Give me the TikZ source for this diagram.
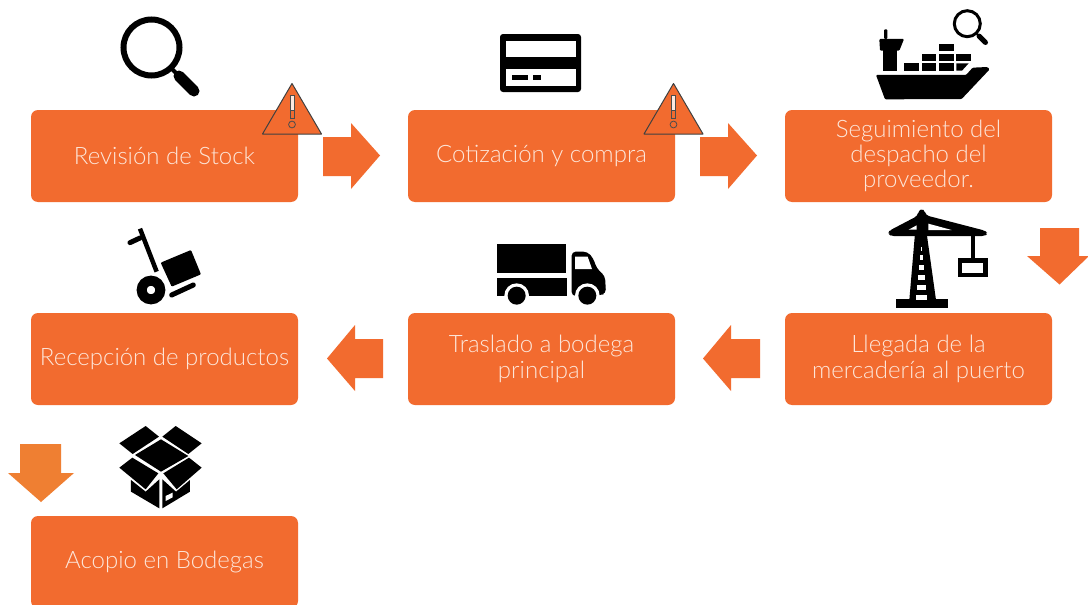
\documentclass[tikz,border=0pt]{standalone}
\usepackage{fontspec}
\setmainfont{Lato}[UprightFont=* Light]
\definecolor{boxorange}{HTML}{F26B2F}
\definecolor{arroworange}{HTML}{EF7F32}
\definecolor{boxtext}{HTML}{FDE6D9}
\tikzset{
  stepbox/.style={fill=boxorange,rounded corners=7pt,minimum width=267pt,minimum height=92pt,inner sep=0pt,
    text=boxtext,align=center,font=\fontsize{24}{25.3}\selectfont},
  blockarrow/.style={fill=boxorange},
  warnshape/.style={fill=boxorange,draw=black!75,line width=1pt,line join=round},
  icon/.style={fill=black,draw=none},
  hole/.style={fill=white,draw=none},
  thumb/.style={x=0.33333pt,y=-0.33333pt}
}
\newcommand{\warnsign}[2]{%
  \begin{scope}[shift={(#1,#2)}]
    \path[warnshape] (0,0) -- (29.5,50.5) -- (-29.5,50.5) -- cycle;
    \path[fill=white!85!boxorange,draw=black!70,line width=.8pt] (-2,12) rectangle (2,34);
    \path[fill=boxorange,draw=black!70,line width=.8pt] (-2,27) rectangle (2,35);
    \path[draw=black!70,line width=.8pt] (0,41) circle (3.4);
  \end{scope}}
\begin{document}
\begin{tikzpicture}[x=1pt,y=-1pt]
\useasboundingbox (0,0) rectangle (1088,605);
\clip (0,0) rectangle (1088,605);
\fill[white] (0,0) rectangle (1088,605);

% boxes
\node[stepbox] (stock) at (164.5,156) {Revisión de Stock};
\node[stepbox] (cotiz) at (541.5,156) {Cotización y compra};
\node[stepbox] (segui) at (918.5,156) {Seguimiento del\\despacho del\\proveedor.};
\node[stepbox] (llega) at (918.5,359) {Llegada de la\\mercadería al puerto};
\node[stepbox] (trasl) at (541.5,359) {Traslado a bodega\\principal};
\node[stepbox] (recep) at (164.5,359) {Recepción de productos};
\node[stepbox] (acopio) at (164.5,562) {Acopio en Bodegas};

% block arrows
\path[blockarrow] (323,137) -- (351,137) -- (351,123) -- (380,155.5) -- (351,189) -- (351,176) -- (323,176) -- cycle;
\path[blockarrow] (700,137) -- (728,137) -- (728,123) -- (757,155.5) -- (728,189) -- (728,176) -- (700,176) -- cycle;
\path[blockarrow] (1040,228) -- (1079,228) -- (1079,256) -- (1089,256) -- (1059.5,284.5) -- (1027,256) -- (1040,256) -- cycle;
\path[blockarrow] (383,339) -- (355,339) -- (355,325) -- (327,358.5) -- (355,391) -- (355,378) -- (383,378) -- cycle;
\path[blockarrow] (760,339) -- (731,339) -- (731,325) -- (703,358.5) -- (731,391) -- (731,378) -- (760,378) -- cycle;
\path[fill=arroworange] (20,444) -- (61,444) -- (61,473) -- (74,473) -- (41,502) -- (8,473) -- (20,473) -- cycle;

% warnings
\warnsign{292}{83.5}
\warnsign{673.5}{83.5}

% magnifier 1
\draw[line width=6pt] (151.5,47.5) circle (28);
\draw[line width=4pt] (170,67) -- (178,75);
\draw[line width=11pt,line cap=round] (179,76) -- (194,91);

% card
\path[icon,rounded corners=3pt] (500,34) rectangle (581,92);
\path[hole] (506,41) rectangle (576,57);
\path[hole] (506,69) rectangle (576,86);
\path[icon] (512,75) rectangle (528,80);
\path[icon] (533,75) rectangle (541,80);

% ship
\begin{scope}[shift={(780,0)},thumb]
  \path[icon,rounded corners=1pt] (288,225) -- (558,225) -- (578,203) -- (622,201) -- (629,208) -- (545,297) -- (315,298) -- cycle;
  \path[icon] (310,148) rectangle (352,212);
  \path[icon,rounded corners=1pt] (298,117) -- (372,117) -- (358,152) -- (300,152) -- cycle;
  \path[icon,rounded corners=1pt] (312,117) -- (312,88) -- (322,88) -- (322,117) -- cycle;
  \path[icon] (373,190) rectangle (417,212);
  \path[icon] (425,190) rectangle (469,212);
  \path[icon] (477,190) rectangle (521,212);
  \path[icon] (529,190) -- (566,190) -- (546,212) -- (529,212) -- cycle;
  \path[icon] (425,161) rectangle (469,184);
  \path[icon] (477,161) rectangle (521,184);
  \path[icon] (529,161) rectangle (573,184);
  \path[icon] (477,131) rectangle (521,154);
\end{scope}
\draw[line width=3pt] (967.3,23.7) circle (13);
\draw[line width=1.5pt] (976,33) -- (979,36);
\draw[line width=5pt,line cap=round] (979,36) -- (985.5,42.5);

% crane
\begin{scope}[shift={(860,200)},thumb]
  \path[icon] (108,298) rectangle (265,323);
  \path[icon] (165,100) -- (200,100) -- (228,300) -- (148,300) -- cycle;
  \foreach \a/\b/\c/\d in {169/201/286/301,172/198/255/270,175/196/225/241,178/193/195/210,180/190/165/180,183/187/140/152}
    \path[hole] (\a,\c) rectangle (\b,\d);
  \path[icon,rounded corners=3pt] (88,92) -- (172,48) -- (175,35) -- (185,25) -- (195,35) -- (198,46) -- (375,92) -- (383,100) -- (375,108) -- (92,108) -- (85,100) -- cycle;
  \path[hole] (146,89) -- (170,76) -- (170,89) -- cycle;
  \path[hole] (205,71) -- (275,90) -- (205,90) -- cycle;
  \path[icon] (332,105) rectangle (346,176);
  \path[icon] (293,173) rectangle (383,232);
  \path[hole] (307,188) rectangle (368,218);
\end{scope}

% truck
\begin{scope}[shift={(480,230)},thumb]
  \path[icon] (50,42) rectangle (258,130);
  \path[icon] (50,145) rectangle (260,198);
  \path[icon,rounded corners=4pt] (275,65) -- (322,65) -- (340,85) -- (350,115) -- (375,138) -- (378,190) -- (360,196) -- (275,198) -- cycle;
  \path[hole] (285,80) -- (323,80) -- (336,117) -- (285,117) -- cycle;
  \path[hole] (110,197) circle (37);
  \path[hole] (322,197) circle (37);
  \path[hole] (60,198) rectangle (400,240);
  \path[icon] (110,197) circle (27);
  \path[icon] (322,197) circle (27);
\end{scope}

% hand truck
\begin{scope}[shift={(0,220)},thumb]
  \path[draw=black,line width=4.5pt] (420,26) -- (470,155);
  \path[draw=black,line width=5pt,line cap=round] (390,68) -- (420,54);
  \path[icon,rounded corners=1pt] (482,128) -- (573,90) -- (603,163) -- (515,200) -- cycle;
  \path[draw=black,line width=10pt] (453,210) circle (28);
  \path[draw=black,line width=5pt,line cap=round] (515,225) -- (580,195);
\end{scope}

% box
\begin{scope}[shift={(0,420)},thumb]
  \path[icon] (358,70) -- (437,18) -- (477,50) -- (398,102) -- cycle;
  \path[icon] (487,50) -- (527,18) -- (605,70) -- (565,102) -- cycle;
  \path[icon] (405,105) -- (483,58) -- (565,108) -- (483,155) -- cycle;
  \path[icon] (358,143) -- (397,113) -- (475,160) -- (437,208) -- cycle;
  \path[icon] (490,160) -- (567,113) -- (605,143) -- (530,208) -- cycle;
  \path[icon] (393,180) -- (437,215) -- (478,178) -- (478,265) -- (393,215) -- cycle;
  \path[icon] (487,178) -- (528,215) -- (570,180) -- (570,215) -- (487,265) -- cycle;
  \path[hole] (497,228) -- (518,218) -- (518,232) -- (497,243) -- cycle;
\end{scope}
\end{tikzpicture}
\end{document}
